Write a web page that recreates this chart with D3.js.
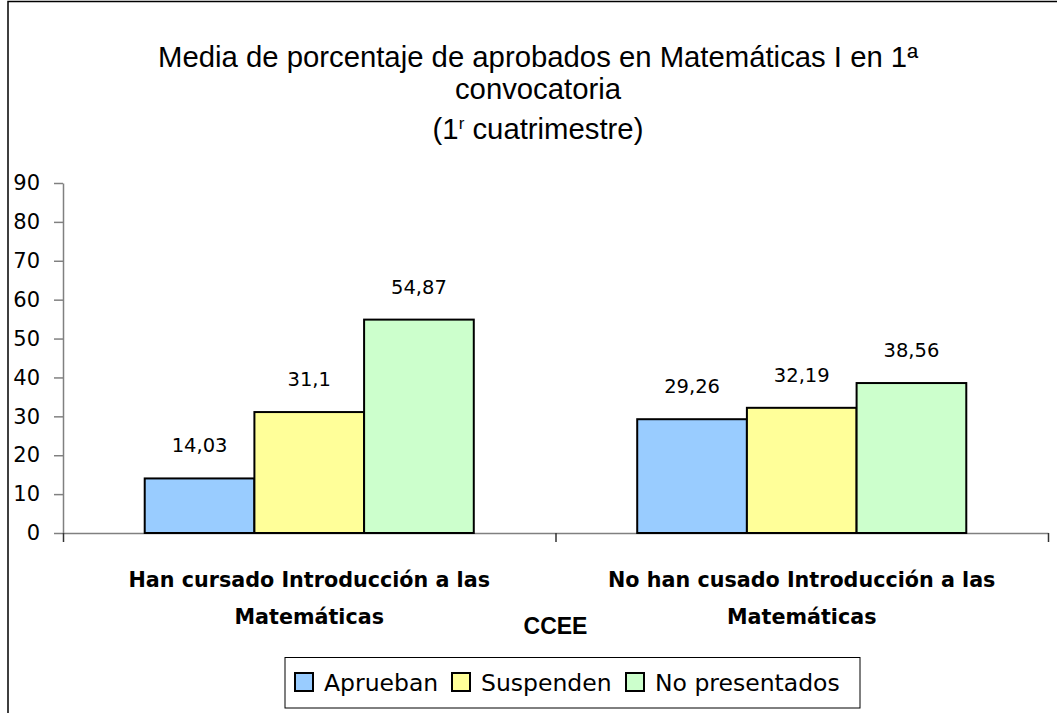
<!DOCTYPE html>
<html>
<head>
<meta charset="utf-8">
<script src="https://cdn.jsdelivr.net/npm/d3@7"></script>
<style>
  body { margin: 0; background: #fff; }
  svg { display: block; }
</style>
</head>
<body>
<svg id="chart" width="1057" height="713"></svg>
<script>
const categories = ["Han cursado Introducción a las|Matemáticas", "No han cusado Introducción a las|Matemáticas"];
const seriesNames = ["Aprueban", "Suspenden", "No presentados"];
const aprueban = [14.03, 29.26];
const suspenden = [31.1, 32.19];
const noPresentados = [54.87, 38.56];
const yTicks = [0, 10, 20, 30, 40, 50, 60, 70, 80, 90];
const colors = ["#99CCFF", "#FFFF99", "#CCFFCC"];

const values = [aprueban, suspenden, noPresentados];
const comic = "'DejaVu Sans', sans-serif";
const arial = "'Liberation Sans', Arial, sans-serif";

const svg = d3.select("#chart");

// outer frame
svg.append("rect")
  .attr("x", 8).attr("y", 1.5)
  .attr("width", 1200).attr("height", 900)
  .attr("fill", "none").attr("stroke", "#000").attr("stroke-width", 1.5);

// title
const title = svg.append("text")
  .attr("text-anchor", "middle")
  .style("font-family", arial)
  .style("font-size", "29.3px")
  .attr("fill", "#000");
title.append("tspan").attr("x", 538).attr("y", 67).text("Media de porcentaje de aprobados en Matemáticas I en 1ª");
title.append("tspan").attr("x", 538).attr("y", 99).text("convocatoria");
title.append("tspan").attr("x", 538).attr("y", 139).text("(1");
title.append("tspan").attr("dy", -10).style("font-size", "17px").text("r");
title.append("tspan").attr("dy", 10).text(" cuatrimestre)");

const y = d3.scaleLinear().domain([0, 90]).range([533, 183]);
const x0 = d3.scaleBand().domain(categories).range([63, 1048]).padding(0);
const x1 = d3.scaleBand().domain(seriesNames).range([0, x0.bandwidth()])
  .paddingInner(0).paddingOuter(0.745);

// y axis
const yAxis = svg.append("g")
  .attr("transform", "translate(63,0)")
  .call(d3.axisLeft(y).tickValues(yTicks).tickSize(9).tickSizeOuter(0).tickPadding(14));
yAxis.select(".domain").attr("stroke", "#808080").attr("stroke-width", 1.5);
yAxis.selectAll(".tick line").attr("stroke", "#808080").attr("stroke-width", 1.5);
yAxis.selectAll(".tick text")
  .style("font-family", comic).style("font-size", "21px").attr("fill", "#000");

// x axis (category boundaries)
const xb = d3.scaleLinear().domain([0, categories.length]).range(x0.range());
const xAxis = svg.append("g")
  .attr("transform", `translate(0,${y(0)})`)
  .call(d3.axisBottom(xb).tickValues(d3.range(categories.length + 1)).tickFormat("").tickSize(9).tickSizeOuter(0));
xAxis.select(".domain").attr("stroke", "#808080").attr("stroke-width", 1.5);
xAxis.selectAll(".tick line").attr("stroke", "#333").attr("stroke-width", 1.5);

// bars
const groups = svg.selectAll("g.group")
  .data(categories)
  .join("g")
  .attr("class", "group")
  .attr("transform", d => `translate(${x0(d)},0)`);

groups.selectAll("rect")
  .data((d, i) => seriesNames.map((s, j) => ({ s, v: values[j][i], c: colors[j] })))
  .join("rect")
  .attr("x", d => x1(d.s))
  .attr("y", d => y(d.v))
  .attr("width", x1.bandwidth())
  .attr("height", d => y(0) - y(d.v))
  .attr("fill", d => d.c)
  .attr("stroke", "#000")
  .attr("stroke-width", 2);

groups.selectAll("text.val")
  .data((d, i) => seriesNames.map((s, j) => ({ s, v: values[j][i] })))
  .join("text")
  .attr("class", "val")
  .attr("x", d => x1(d.s) + x1.bandwidth() / 2)
  .attr("y", d => y(d.v) - 26)
  .attr("text-anchor", "middle")
  .style("font-family", comic)
  .style("font-size", "19.5px")
  .attr("fill", "#000")
  .text(d => String(d.v).replace(".", ","));

// category labels
svg.selectAll("text.cat")
  .data(categories)
  .join("text")
  .attr("class", "cat")
  .attr("text-anchor", "middle")
  .style("font-family", comic)
  .style("font-size", "20.7px")
  .style("font-weight", "bold")
  .attr("fill", "#000")
  .each(function (d) {
    const cx = x0(d) + x0.bandwidth() / 2;
    d.split("|").forEach((line, k) => {
      d3.select(this).append("tspan").attr("x", cx).attr("y", 587 + k * 37).text(line);
    });
  });

// axis title
svg.append("text")
  .attr("x", xb(1)).attr("y", 634)
  .attr("text-anchor", "middle")
  .style("font-family", arial)
  .style("font-size", "23px")
  .style("font-weight", "bold")
  .attr("fill", "#000")
  .text("CCEE");

// legend
const legend = svg.append("g");
legend.append("rect")
  .attr("x", 285).attr("y", 657.5).attr("width", 575).attr("height", 50.5)
  .attr("fill", "#fff").attr("stroke", "#000").attr("stroke-width", 1);
const legendX = [295, 452, 626];
const items = legend.selectAll("g.item")
  .data(seriesNames)
  .join("g")
  .attr("class", "item")
  .attr("transform", (d, i) => `translate(${legendX[i]},673)`);
items.append("rect")
  .attr("width", 18).attr("height", 18)
  .attr("fill", (d, i) => colors[i])
  .attr("stroke", "#000").attr("stroke-width", 2);
items.append("text")
  .attr("x", 29).attr("y", 18)
  .style("font-family", comic)
  .style("font-size", "23.5px")
  .attr("fill", "#000")
  .text(d => d);
</script>
</body>
</html>
